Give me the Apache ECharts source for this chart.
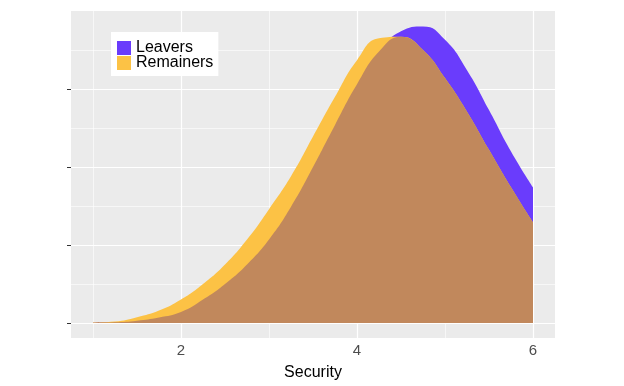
<!DOCTYPE html>
<html>
<head>
<meta charset="utf-8">
<script src="https://cdn.jsdelivr.net/npm/echarts@6/dist/echarts.min.js"></script>
<style>html,body{margin:0;padding:0;background:#fff}#c{width:624px;height:386px}</style>
</head>
<body>
<div id="c"></div>
<script>
const security  = [1, 1.25, 1.5, 1.75, 2, 2.25, 2.5, 2.75, 3, 3.25, 3.5, 3.75, 4, 4.25, 4.5, 4.75, 5, 5.25, 5.5, 5.75, 6];
const leavers   = [0.0005, 0.001, 0.003, 0.007, 0.014, 0.030, 0.050, 0.075, 0.107, 0.149, 0.200, 0.254, 0.306, 0.348, 0.374, 0.380, 0.363, 0.324, 0.273, 0.220, 0.174];
const remainers = [0.0006, 0.002, 0.0075, 0.016, 0.030, 0.050, 0.075, 0.107, 0.146, 0.188, 0.239, 0.290, 0.337, 0.365, 0.367, 0.350, 0.314, 0.271, 0.222, 0.174, 0.129];
const xLabels = [2, 4, 6];
const xMinor = [1, 3, 5];
const yMajor = [0, 0.1, 0.2, 0.3];
const yMinor = [0.05, 0.15, 0.25, 0.35];

const pairs = a => security.map((x, i) => [x, a[i]]);
const overlap = security.map((x, i) => [x, Math.min(leavers[i], remainers[i])]);

function gridLines() {
  const d = [];
  xLabels.forEach(v => d.push({xAxis: v, lineStyle: {width: 1.2}}));
  xMinor.forEach(v => d.push({xAxis: v, lineStyle: {width: 0.6}}));
  yMajor.forEach(v => d.push({yAxis: v, lineStyle: {width: 1.2}}));
  yMinor.forEach(v => d.push({yAxis: v, lineStyle: {width: 0.6}}));
  return {
    silent: true, symbol: ['none', 'none'], label: {show: false}, z: 1,
    lineStyle: {color: '#ffffff', type: 'solid'},
    emphasis: {disabled: true}, animation: false, data: d
  };
}

const area = (name, data, color, z) => ({
  name, type: 'line', data, z, symbol: 'none', smooth: 0.5,
  lineStyle: {width: 0}, itemStyle: {color}, areaStyle: {color, opacity: 1},
  emphasis: {disabled: true}, animation: false
});

const chart = echarts.init(document.getElementById('c'));
chart.setOption({
  backgroundColor: '#ffffff',
  animation: false,
  grid: {left: 71, right: 69, top: 11, bottom: 47, show: true, backgroundColor: '#ebebeb', borderWidth: 0},
  legend: {
    data: ['Leavers', 'Remainers'], orient: 'vertical', left: 111, top: 32,
    padding: [8, 5, 5, 6], backgroundColor: '#ffffff', itemWidth: 14, itemHeight: 14, itemGap: -1,
    icon: 'rect', selectedMode: false,
    textStyle: {fontFamily: 'Liberation Sans, Arial, sans-serif', fontSize: 16, color: '#000'}
  },
  xAxis: {
    type: 'value', min: 0.75, max: 6.25,
    name: 'Security', nameLocation: 'middle', nameGap: 27,
    nameTextStyle: {fontFamily: 'Liberation Sans, Arial, sans-serif', fontSize: 16, color: '#000'},
    axisLine: {show: false}, splitLine: {show: false},
    axisTick: {show: true, customValues: xLabels, length: 4, lineStyle: {color: '#333', width: 1}},
    axisLabel: {customValues: xLabels, fontFamily: 'Liberation Sans, Arial, sans-serif', fontSize: 15, color: '#4d4d4d', margin: 5}
  },
  yAxis: {
    type: 'value', min: -0.0192, max: 0.4,
    axisLine: {show: false}, splitLine: {show: false},
    axisTick: {show: true, customValues: yMajor, length: 4, lineStyle: {color: '#333', width: 1}},
    axisLabel: {show: false, customValues: yMajor}
  },
  series: [
    {name: 'grid', type: 'line', data: [], z: 1, markLine: gridLines()},
    area('Leavers', pairs(leavers), '#6a3cfc', 2),
    area('Remainers', pairs(remainers), '#fcc245', 3),
    area('overlap', overlap, '#c1885c', 4)
  ]
});
</script>
</body>
</html>
